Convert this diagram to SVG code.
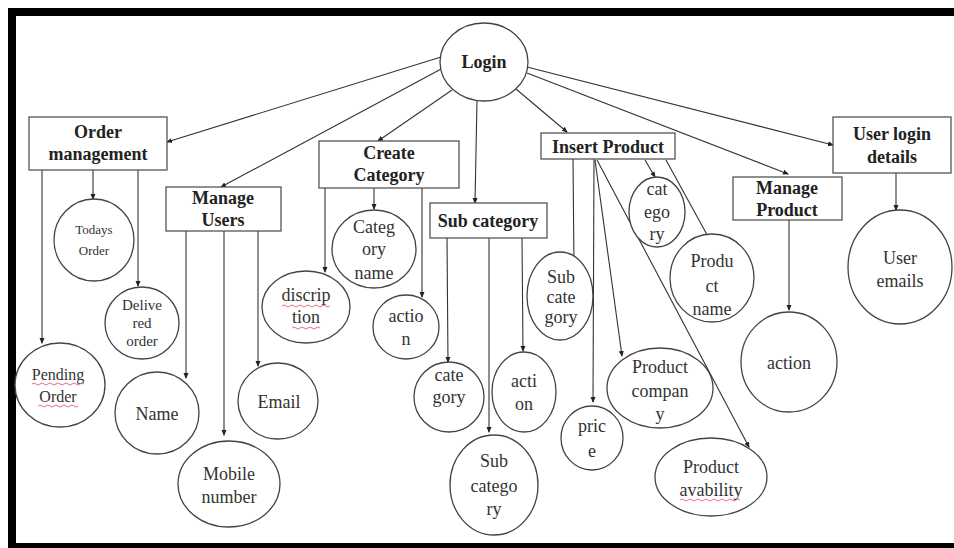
<svg xmlns="http://www.w3.org/2000/svg" width="954" height="548" viewBox="0 0 954 548">
<defs>
<marker id="ah" markerWidth="6" markerHeight="6" refX="5" refY="3" orient="auto" markerUnits="userSpaceOnUse">
<path d="M0,0.5 L6,3 L0,5.5 z" fill="#222"/>
</marker>
</defs>
<style>
.box{fill:#fff;stroke:#555;stroke-width:1.3}
.el{fill:#fff;stroke:#444;stroke-width:1.3}
.bt{font-weight:bold;font-size:18px;fill:#222;text-anchor:middle}
.t{font-size:18px;fill:#333;text-anchor:middle}
.s13{font-size:13px}
.s15{font-size:15px}
.s16{font-size:16px}
.c line{stroke:#333;stroke-width:1.1;marker-end:url(#ah)}
.sq{fill:none;stroke:#e06070;stroke-width:0.9}
</style>
<rect x="0" y="0" width="954" height="548" fill="#fff"/>
<g id="frame" fill="#000">
<rect x="8" y="8" width="946" height="8"/>
<rect x="8" y="8" width="8" height="540"/>
<rect x="8" y="543" width="946" height="5"/>
</g>
<g id="connectors" class="c">
<line x1="441" y1="57" x2="167" y2="142"/>
<line x1="443" y1="68" x2="221" y2="187"/>
<line x1="452" y1="90" x2="378" y2="141"/>
<line x1="477" y1="100" x2="475" y2="203"/>
<line x1="516" y1="89" x2="567" y2="132"/>
<line x1="527" y1="73" x2="788" y2="174"/>
<line x1="527" y1="67" x2="833" y2="145"/>
<line x1="42" y1="170" x2="42" y2="343"/>
<line x1="93" y1="170" x2="93" y2="199"/>
<line x1="138" y1="170" x2="138" y2="286"/>
<line x1="186" y1="231" x2="186" y2="378"/>
<line x1="224" y1="231" x2="224" y2="435"/>
<line x1="258" y1="231" x2="258" y2="366"/>
<line x1="325" y1="188" x2="325" y2="272"/>
<line x1="374" y1="188" x2="374" y2="209"/>
<line x1="422" y1="188" x2="422" y2="297"/>
<line x1="447" y1="238" x2="448" y2="362"/>
<line x1="489" y1="238" x2="489" y2="432"/>
<line x1="522" y1="238" x2="523" y2="351"/>
<line x1="573" y1="159" x2="574" y2="267"/>
<line x1="594" y1="159" x2="593" y2="402"/>
<line x1="595" y1="160" x2="622" y2="356"/>
<line x1="597" y1="160" x2="749" y2="447"/>
<line x1="645" y1="160" x2="655" y2="177"/>
<line x1="666" y1="160" x2="711" y2="242"/>
<line x1="789" y1="220" x2="789" y2="310"/>
<line x1="896" y1="173" x2="896" y2="210"/>
</g>
<g font-family="'Liberation Serif', 'DejaVu Serif', serif">
<g id="login"><ellipse class="el" cx="484" cy="62" rx="44" ry="39"/><text class="bt" x="484" y="68">Login</text></g>
<g id="order-management"><rect class="box" x="29" y="117" width="138" height="53"/><text class="bt" x="98" y="138">Order</text><text class="bt" x="98" y="160">management</text></g>
<g id="manage-users"><rect class="box" x="166" y="187" width="115" height="44"/><text class="bt" x="223" y="204">Manage</text><text class="bt" x="223" y="226">Users</text></g>
<g id="create-category"><rect class="box" x="319" y="141" width="140" height="47"/><text class="bt" x="389" y="159">Create</text><text class="bt" x="389" y="181">Category</text></g>
<g id="sub-category"><rect class="box" x="430" y="203" width="117" height="35"/><text class="bt" x="488" y="227">Sub category</text></g>
<g id="insert-product"><rect class="box" x="541" y="133" width="134" height="26"/><text class="bt" x="608" y="153">Insert Product</text></g>
<g id="manage-product"><rect class="box" x="733" y="177" width="109" height="43"/><text class="bt" x="787" y="194">Manage</text><text class="bt" x="787" y="216">Product</text></g>
<g id="user-login-details"><rect class="box" x="833" y="117" width="118" height="56"/><text class="bt" x="892" y="140">User login</text><text class="bt" x="892" y="163">details</text></g>
<g id="todays-order"><ellipse class="el" cx="94" cy="240" rx="40" ry="41"/><text class="t s13" x="94" y="234">Todays</text><text class="t s13" x="94" y="255">Order</text></g>
<g id="delivered-order"><ellipse class="el" cx="142" cy="323" rx="37" ry="36"/><text class="t s15" x="142" y="310">Delive</text><text class="t s15" x="142" y="328">red</text><text class="t s15" x="142" y="346">order</text></g>
<g id="pending-order"><ellipse class="el" cx="60" cy="385" rx="45" ry="42"/><text class="t s16" x="58" y="380">Pending</text><text class="t s16" x="58" y="402">Order</text><path class="sq" d="M32,384 q2,-2 4,0 t4,0 t4,0 t4,0 t4,0 t4,0 t4,0 t4,0 t4,0 t4,0 t4,0 t4,0 t4,0"/><path class="sq" d="M38,406 q2,-2 4,0 t4,0 t4,0 t4,0 t4,0 t4,0 t4,0 t4,0 t4,0 t4,0"/></g>
<g id="name"><ellipse class="el" cx="157" cy="413" rx="42" ry="41"/><text class="t" x="157" y="420">Name</text></g>
<g id="mobile-number"><ellipse class="el" cx="229" cy="484" rx="51" ry="43"/><text class="t" x="229" y="480">Mobile</text><text class="t" x="229" y="503">number</text></g>
<g id="email"><ellipse class="el" cx="278" cy="401" rx="40" ry="38"/><text class="t" x="279" y="408">Email</text></g>
<g id="discription"><ellipse class="el" cx="306" cy="307" rx="44" ry="36"/><text class="t" x="306" y="301">discrip</text><text class="t" x="306" y="323">tion</text><path class="sq" d="M282,306 q2,-2 4,0 t4,0 t4,0 t4,0 t4,0 t4,0 t4,0 t4,0 t4,0 t4,0 t4,0 t4,0"/><path class="sq" d="M292,328 q2,-2 4,0 t4,0 t4,0 t4,0 t4,0 t4,0 t4,0"/></g>
<g id="category-name"><ellipse class="el" cx="374" cy="249" rx="42" ry="39"/><text class="t" x="374" y="233">Categ</text><text class="t" x="374" y="255">ory</text><text class="t" x="374" y="279">name</text></g>
<g id="cc-action"><ellipse class="el" cx="406" cy="327" rx="33" ry="32"/><text class="t" x="406" y="322">actio</text><text class="t" x="406" y="345">n</text></g>
<g id="sc-category"><ellipse class="el" cx="449" cy="397" rx="35" ry="35"/><text class="t" x="449" y="381">cate</text><text class="t" x="449" y="403">gory</text></g>
<g id="sc-subcategory"><ellipse class="el" cx="494" cy="485" rx="44" ry="50"/><text class="t" x="494" y="467">Sub</text><text class="t" x="494" y="492">catego</text><text class="t" x="494" y="515">ry</text></g>
<g id="sc-action"><ellipse class="el" cx="524" cy="392" rx="32" ry="40"/><text class="t" x="524" y="387">acti</text><text class="t" x="524" y="410">on</text></g>
<g id="ip-subcategory"><ellipse class="el" cx="560" cy="296" rx="33" ry="44"/><text class="t" x="561" y="283">Sub</text><text class="t" x="561" y="303">cate</text><text class="t" x="561" y="323">gory</text></g>
<g id="ip-price"><ellipse class="el" cx="592" cy="438" rx="31" ry="32"/><text class="t" x="592" y="432">pric</text><text class="t" x="592" y="457">e</text></g>
<g id="product-company"><ellipse class="el" cx="660" cy="388" rx="53" ry="40"/><text class="t" x="660" y="373">Product</text><text class="t" x="660" y="397">compan</text><text class="t" x="660" y="420">y</text></g>
<g id="product-avability"><ellipse class="el" cx="711" cy="477" rx="56" ry="39"/><text class="t" x="711" y="473">Product</text><text class="t" x="711" y="496">avability</text><path class="sq" d="M680,500 q2,-2 4,0 t4,0 t4,0 t4,0 t4,0 t4,0 t4,0 t4,0 t4,0 t4,0 t4,0 t4,0 t4,0 t4,0 t4,0"/></g>
<g id="ip-category"><ellipse class="el" cx="657" cy="212" rx="28" ry="35"/><text class="t" x="657" y="195">cat</text><text class="t" x="657" y="218">ego</text><text class="t" x="657" y="240">ry</text></g>
<g id="product-name"><ellipse class="el" cx="712" cy="278" rx="42" ry="44"/><text class="t" x="712" y="267">Produ</text><text class="t" x="712" y="292">ct</text><text class="t" x="712" y="315">name</text></g>
<g id="mp-action"><ellipse class="el" cx="789" cy="362" rx="48" ry="50"/><text class="t" x="789" y="369">action</text></g>
<g id="user-emails"><ellipse class="el" cx="900" cy="267" rx="52" ry="57"/><text class="t" x="900" y="264">User</text><text class="t" x="900" y="287">emails</text></g>
</g>
</svg>
